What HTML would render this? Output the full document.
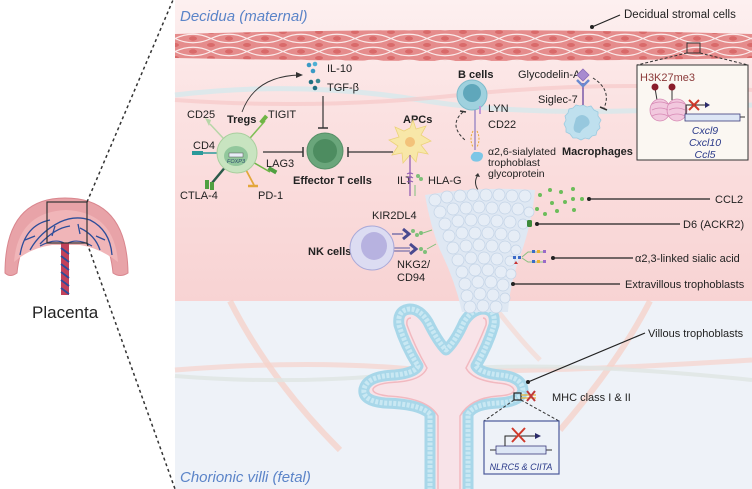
<!DOCTYPE html>
<html><head><meta charset="utf-8"><style>
html,body{margin:0;padding:0;background:#fff;}
svg{display:block;font-family:"Liberation Sans",Arial,sans-serif;}
</style></head><body>
<svg width="752" height="489" viewBox="0 0 752 489" xmlns="http://www.w3.org/2000/svg">
<defs>
<linearGradient id="dec" x1="0" y1="0" x2="0" y2="1">
<stop offset="0" stop-color="#fdf0f0"/><stop offset="0.35" stop-color="#fbe2e2"/><stop offset="1" stop-color="#f8d3d3"/>
</linearGradient>
<pattern id="str" x="175" y="32" width="36" height="13" patternUnits="userSpaceOnUse">
<rect width="36" height="13" fill="#e58c8c"/>
<path d="M0 6.5 Q18 -2 36 6.5" stroke="#fbeaea" stroke-width="1.2" fill="none"/>
<path d="M0 6.5 Q18 15 36 6.5" stroke="#fbeaea" stroke-width="1.2" fill="none"/>
<ellipse cx="18" cy="6.5" rx="4" ry="2.2" fill="#d96a6a"/>
<ellipse cx="0" cy="0" rx="4" ry="2" fill="#d96a6a"/>
<ellipse cx="36" cy="0" rx="4" ry="2" fill="#d96a6a"/>
<ellipse cx="0" cy="13" rx="4" ry="2" fill="#d96a6a"/>
<ellipse cx="36" cy="13" rx="4" ry="2" fill="#d96a6a"/>
</pattern>
</defs>

<rect x="175" y="0" width="577" height="301" fill="url(#dec)"/>
<rect x="175" y="301" width="577" height="188" fill="#eef2f8"/>

<path d="M175 95 Q300 80 420 100 T752 105" stroke="#d6e8ec" stroke-width="5" fill="none" opacity="0.8"/>
<path d="M175 100 Q320 110 460 95 T752 90" stroke="#f6c9c9" stroke-width="4" fill="none" opacity="0.7"/>
<path d="M230 301 Q270 380 340 450" stroke="#f7cfc5" stroke-width="6" fill="none" opacity="0.7"/>
<path d="M650 301 Q620 360 560 430" stroke="#f7cfc5" stroke-width="6" fill="none" opacity="0.7"/>
<path d="M175 370 Q300 360 400 368 T752 360" stroke="#f7d3cc" stroke-width="5" fill="none" opacity="0.7"/>
<path d="M175 376 Q300 386 420 372 T752 380" stroke="#dfe5e2" stroke-width="4" fill="none" opacity="0.8"/>
<path d="M490 301 Q520 340 540 360" stroke="#f7d3cc" stroke-width="5" fill="none" opacity="0.6"/>

<path d="M175 34 Q460 26 752 34 L752 58 Q460 64 175 58 Z" fill="url(#str)"/>

<text x="180" y="21" font-size="15" font-style="italic" fill="#5b84c8">Decidua (maternal)</text>
<text x="180" y="482" font-size="15" font-style="italic" fill="#5b84c8">Chorionic villi (fetal)</text>

<line x1="592" y1="27" x2="620" y2="15" stroke="#222" stroke-width="1.2"/>
<circle cx="592" cy="27" r="2" fill="#222"/>
<text x="624" y="18" font-size="11.5" fill="#222">Decidual stromal cells</text>

<rect x="687" y="43" width="13" height="10" fill="none" stroke="#333" stroke-width="1"/>
<line x1="687" y1="53" x2="637" y2="65" stroke="#333" stroke-dasharray="3 2"/>
<line x1="700" y1="53" x2="748" y2="65" stroke="#333" stroke-dasharray="3 2"/>
<rect x="637" y="65" width="111" height="95" fill="#fbf7f2" stroke="#333" stroke-width="1"/>
<text x="640" y="81" font-size="11" fill="#8b3a3a">H3K27me3</text>
<line x1="655" y1="88" x2="657" y2="100" stroke="#333"/><circle cx="655" cy="87" r="3.5" fill="#8a1c2a"/>
<line x1="672" y1="88" x2="672" y2="100" stroke="#333"/><circle cx="672" cy="87" r="3.5" fill="#8a1c2a"/>
<ellipse cx="660" cy="110" rx="10" ry="11" fill="#f2c8de" stroke="#d78ab5" stroke-width="0.8"/>
<ellipse cx="677" cy="110" rx="10" ry="11" fill="#f2c8de" stroke="#d78ab5" stroke-width="0.8"/>
<path d="M652 104 Q660 100 668 104 M652 110 Q660 106 668 110 M652 116 Q660 112 668 116 M669 104 Q677 100 685 104 M669 110 Q677 106 685 110 M669 116 Q677 112 685 116" stroke="#d78ab5" stroke-width="0.7" fill="none"/>
<line x1="685" y1="117" x2="745" y2="117" stroke="#333"/>
<rect x="685" y="114" width="55" height="7" fill="#dde6f5" stroke="#3a3a7a" stroke-width="0.8"/>
<path d="M686 114 V105 H705" stroke="#222" fill="none"/><path d="M705 102 L710 105 L705 108Z" fill="#2a2a6a"/>
<path d="M689 100 L699 110 M699 100 L689 110" stroke="#d0392b" stroke-width="2"/>
<g font-size="10.5" font-style="italic" fill="#2b3a8a" text-anchor="middle">
<text x="705" y="134">Cxcl9</text><text x="705" y="146">Cxcl10</text><text x="705" y="158">Ccl5</text></g>

<circle cx="309" cy="65" r="2.3" fill="#3a9ac5"/><circle cx="315" cy="64" r="2.3" fill="#4fb0d4"/><circle cx="313" cy="71" r="2.3" fill="#3a9ac5"/>
<circle cx="311" cy="82" r="2.3" fill="#1f6f80"/><circle cx="318" cy="81" r="2.3" fill="#3a8a95"/><circle cx="315" cy="88" r="2.3" fill="#1f6f80"/>
<text x="327" y="72" font-size="11" fill="#222">IL-10</text>
<text x="327" y="91" font-size="11" fill="#222">TGF-β</text>
<path d="M242 112 Q255 76 300 75" stroke="#333" fill="none" stroke-width="0.9"/>
<path d="M296 72 L303 75 L296 78Z" fill="#333"/>
<line x1="323" y1="96" x2="323" y2="128" stroke="#333" stroke-width="1.2"/><line x1="318" y1="128" x2="328" y2="128" stroke="#333" stroke-width="1.5"/>

<line x1="237" y1="153" x2="210" y2="124" stroke="#b7d6a8" stroke-width="1.5"/><path d="M205 118 l6 2 -2 6z" fill="#b7d6a8"/>
<line x1="237" y1="153" x2="265" y2="121" stroke="#7fbf55" stroke-width="1.5"/><rect x="262" y="115" width="4" height="9" fill="#6fb545" transform="rotate(40 264 119)"/>
<line x1="237" y1="153" x2="200" y2="153" stroke="#2a9a9a" stroke-width="1.5"/><rect x="192" y="151" width="11" height="4" fill="#2a9a9a"/>
<line x1="237" y1="153" x2="270" y2="172" stroke="#6fb545" stroke-width="1.5"/><rect x="268" y="168" width="9" height="4" fill="#4fa040" transform="rotate(30 272 170)"/>
<line x1="237" y1="153" x2="212" y2="183" stroke="#2a5a4a" stroke-width="2.5"/><rect x="205" y="180" width="4" height="9" fill="#4fa040"/><rect x="210" y="182" width="4" height="8" fill="#4fa040"/>
<line x1="237" y1="153" x2="254" y2="185" stroke="#e3a63a" stroke-width="1.8"/><path d="M248 186 h10" stroke="#e3a63a" stroke-width="2.5"/>
<circle cx="237" cy="153" r="20" fill="#c8e4c0" stroke="#a9cf9e"/>
<ellipse cx="236" cy="156" rx="12" ry="10" fill="#92c79c"/>
<rect x="229" y="153" width="14" height="4" fill="#e8eef8" stroke="#555" stroke-width="0.5"/>
<text x="236" y="163" font-size="5.5" font-style="italic" fill="#2a4a6a" text-anchor="middle">FOXP3</text>
<g font-size="11" fill="#222">
<text x="187" y="118">CD25</text><text x="268" y="118">TIGIT</text><text x="193" y="149">CD4</text>
<text x="266" y="167">LAG3</text><text x="180" y="199">CTLA-4</text><text x="258" y="199">PD-1</text>
<text x="397" y="184">ILT</text><text x="428" y="184">HLA-G</text>
<text x="488" y="112">LYN</text><text x="488" y="128">CD22</text>
<text x="488" y="155" font-size="10.5">α2,6-sialylated</text><text x="488" y="166" font-size="10.5">trophoblast</text><text x="488" y="177" font-size="10.5">glycoprotein</text>
<text x="518" y="78">Glycodelin-A</text><text x="538" y="103">Siglec-7</text>
<text x="372" y="219">KIR2DL4</text><text x="397" y="268">NKG2/</text><text x="397" y="281">CD94</text>
</g>
<g font-size="11" font-weight="bold" fill="#222">
<text x="227" y="123">Tregs</text><text x="293" y="184">Effector T cells</text><text x="403" y="123">APCs</text>
<text x="458" y="78">B cells</text><text x="562" y="155">Macrophages</text><text x="308" y="255">NK cells</text>
</g>

<line x1="263" y1="152" x2="303" y2="152" stroke="#333" stroke-width="1.2"/><line x1="303" y1="147" x2="303" y2="157" stroke="#333" stroke-width="1.5"/>
<line x1="393" y1="152" x2="348" y2="152" stroke="#333" stroke-width="1.2"/><line x1="348" y1="147" x2="348" y2="157" stroke="#333" stroke-width="1.5"/>
<circle cx="325" cy="151" r="18" fill="#6aa67b" stroke="#578f67"/>
<circle cx="325" cy="151" r="12" fill="#4d8c60"/>

<g fill="#f8e7a8" stroke="#ecd27a" stroke-width="0.8">
<path d="M410 128 L413 120 L416 129 L426 126 L421 135 L431 141 L421 145 L428 154 L418 152 L416 162 L410 155 L403 163 L402 153 L392 155 L398 146 L389 140 L399 137 L395 127 L404 131Z"/>
</g>
<circle cx="410" cy="142" r="5" fill="#f3c27a"/>
<line x1="410" y1="155" x2="410" y2="196" stroke="#8a55b0" stroke-width="1.2"/>
<path d="M407 174 q3 -2 6 0 M407 178 q3 -2 6 0 M407 182 q3 -2 6 0" stroke="#8a55b0" fill="none"/>
<circle cx="418" cy="176" r="2" fill="#7fc07a"/><circle cx="421" cy="179" r="2" fill="#7fc07a"/><line x1="415" y1="185" x2="415" y2="196" stroke="#7fc07a"/>

<circle cx="472" cy="95" r="15" fill="#9fd1de" stroke="#7fbccc"/>
<circle cx="472" cy="93" r="9" fill="#5fa7bb"/>
<line x1="475" y1="110" x2="475" y2="150" stroke="#8a78c0" stroke-width="1.2"/>
<path d="M473 131 q-4 8 0 16 M477 131 q4 8 0 16" stroke="#e6a93a" stroke-dasharray="2 1.5" fill="none"/>
<path d="M480 106 v8" stroke="#c09ad8" stroke-width="2"/>
<path d="M474 152 q-6 5 -1 9 q6 2 9 -2 q3 -6 -3 -7z" fill="#7cc6e6"/>
<path d="M463 112 Q448 125 465 140" stroke="#333" stroke-dasharray="3 2" fill="none"/><path d="M460 111 l6 1" stroke="#333" stroke-width="1.5"/>
<path d="M478 190 Q473 182 478 175" stroke="#333" fill="none"/><path d="M475 176 l3 -3 l2 4z" fill="#333"/>

<path d="M583 105 l4 2 4 -1 3 4 4 2 0 4 3 4 -2 4 1 4 -3 3 -1 4 -4 1 -3 3 -4 -1 -4 2 -4 -2 -4 0 -3 -4 -4 -2 0 -4 -2 -4 2 -4 -1 -4 3 -3 1 -4 4 -1 3 -3 4 1z" fill="#bfe0ee" stroke="#9ccbe0" stroke-width="0.8"/>
<path d="M576 118 q6 -6 12 0 q4 6 -2 9 q-4 2 -6 6 q-8 0 -6 -8z" fill="#97c8de"/>
<line x1="583" y1="83" x2="583" y2="105" stroke="#7a5aa8" stroke-width="1.5"/>
<path d="M577 80 L583 86 L589 80" stroke="#6a8ad0" stroke-width="2.5" fill="none"/>
<path d="M583 69 L589 75 L583 81 L577 75Z" fill="#a88bd0" stroke="#8a6ab8" stroke-width="0.8"/>
<path d="M593 78 Q612 90 604 108" stroke="#333" stroke-dasharray="3 2" fill="none"/><path d="M600 107 l7 3" stroke="#333" stroke-width="1.5"/>

<line x1="392" y1="234" x2="403" y2="234" stroke="#5a5aa0" stroke-width="1.2"/>
<path d="M403 229 l6 5 -6 5" stroke="#4a4a90" stroke-width="3" fill="none"/>
<circle cx="413" cy="231" r="2" fill="#7fc07a"/><circle cx="417" cy="235" r="2" fill="#7fc07a"/><circle cx="421" cy="233" r="2" fill="#7fc07a"/><line x1="423" y1="233" x2="432" y2="230" stroke="#7fc07a"/>
<line x1="393" y1="248" x2="410" y2="248" stroke="#5a5aa0"/><line x1="393" y1="251" x2="410" y2="251" stroke="#5a5aa0"/>
<path d="M410 244 l6 5 -6 5" stroke="#4a4a90" stroke-width="3" fill="none"/>
<circle cx="421" cy="249" r="2" fill="#7fc07a"/><circle cx="425" cy="252" r="2" fill="#7fc07a"/><line x1="427" y1="249" x2="436" y2="244" stroke="#7fc07a"/>
<circle cx="372" cy="248" r="22" fill="#dcdcf2" stroke="#a9a9d8"/>
<ellipse cx="374" cy="246" rx="13" ry="14" fill="#b7b2e0"/>

<!-- Villus (drawn before EVT so cluster overlaps top) -->
<path d="M430 495 L430 414 Q420 404 385 403 Q362 401 364 389 Q367 376 395 375 Q415 373 418 366 Q405 345 399 325 Q397 310 410 309 Q420 309 428 322 Q438 342 446 350 Q455 342 464 322 Q472 309 484 309 Q496 310 494 325 Q488 345 476 366 Q480 373 500 375 Q522 377 523 390 Q521 402 498 403 Q474 404 468 414 L468 495" fill="#f8e3e8" stroke="#a8d7e9" stroke-width="11" stroke-linejoin="round"/>
<path d="M430 495 L430 414 Q420 404 385 403 Q362 401 364 389 Q367 376 395 375 Q415 373 418 366 Q405 345 399 325 Q397 310 410 309 Q420 309 428 322 Q438 342 446 350 Q455 342 464 322 Q472 309 484 309 Q496 310 494 325 Q488 345 476 366 Q480 373 500 375 Q522 377 523 390 Q521 402 498 403 Q474 404 468 414 L468 495" fill="none" stroke="#c9e8f3" stroke-width="5" stroke-dasharray="3 1.5" stroke-linejoin="round"/>
<path d="M438 489 L438 416 Q428 398 388 396 Q372 394 373 389 Q376 383 398 382 Q422 380 427 368 Q414 345 407 325 Q406 318 411 318 M460 489 L460 416 Q470 398 498 396 Q514 395 514 390 Q512 384 498 383 Q472 380 466 368 Q478 345 486 325 Q487 318 483 318" stroke="#f2b9c0" stroke-width="1.5" fill="none"/>

<!-- EVT cluster -->
<path d="M425 195 Q480 186 535 190 Q532 225 518 262 Q510 285 508 312 L462 312 Q455 280 440 250 Q430 225 425 195Z" fill="#dfe8f3"/>
<g fill="#e6edf6" stroke="#c3d3e6" stroke-width="0.7">
<circle cx="435" cy="200" r="6"/><circle cx="447" cy="197" r="6"/><circle cx="460" cy="196" r="6"/><circle cx="473" cy="195" r="6"/><circle cx="486" cy="195" r="6"/><circle cx="499" cy="195" r="6"/><circle cx="512" cy="196" r="6"/><circle cx="525" cy="196" r="6"/>
<circle cx="440" cy="212" r="6"/><circle cx="453" cy="209" r="6"/><circle cx="466" cy="208" r="6"/><circle cx="479" cy="207" r="6"/><circle cx="492" cy="208" r="6"/><circle cx="505" cy="208" r="6"/><circle cx="518" cy="209" r="6"/><circle cx="529" cy="212" r="5"/>
<circle cx="445" cy="224" r="6"/><circle cx="458" cy="221" r="6"/><circle cx="471" cy="220" r="6"/><circle cx="484" cy="220" r="6"/><circle cx="497" cy="221" r="6"/><circle cx="510" cy="222" r="6"/><circle cx="523" cy="224" r="5"/>
<circle cx="449" cy="236" r="6"/><circle cx="462" cy="233" r="6"/><circle cx="475" cy="233" r="6"/><circle cx="488" cy="233" r="6"/><circle cx="501" cy="234" r="6"/><circle cx="514" cy="236" r="6"/>
<circle cx="453" cy="248" r="6"/><circle cx="466" cy="246" r="6"/><circle cx="479" cy="245" r="6"/><circle cx="492" cy="246" r="6"/><circle cx="505" cy="247" r="6"/><circle cx="516" cy="250" r="5"/>
<circle cx="458" cy="260" r="6"/><circle cx="471" cy="258" r="6"/><circle cx="484" cy="258" r="6"/><circle cx="497" cy="259" r="6"/><circle cx="510" cy="261" r="5"/>
<circle cx="462" cy="272" r="6"/><circle cx="475" cy="270" r="6"/><circle cx="488" cy="270" r="6"/><circle cx="501" cy="272" r="6"/><circle cx="511" cy="274" r="5"/>
<circle cx="465" cy="284" r="6"/><circle cx="478" cy="282" r="6"/><circle cx="491" cy="282" r="6"/><circle cx="503" cy="285" r="6"/>
<circle cx="467" cy="296" r="6"/><circle cx="480" cy="294" r="6"/><circle cx="493" cy="295" r="6"/><circle cx="505" cy="298" r="5"/>
<circle cx="470" cy="307" r="6"/><circle cx="483" cy="306" r="6"/><circle cx="496" cy="307" r="6"/>
</g>

<g fill="#6cbd5a">
<circle cx="540" cy="195" r="2"/><circle cx="550" cy="190" r="2"/><circle cx="561" cy="192" r="2"/><circle cx="573" cy="189" r="2"/><circle cx="582" cy="199" r="2"/>
<circle cx="537" cy="209" r="2"/><circle cx="545" cy="214" r="2"/><circle cx="552" cy="203" r="2"/><circle cx="557" cy="211" r="2"/><circle cx="565" cy="202" r="2"/><circle cx="574" cy="210" r="2"/><circle cx="573" cy="199" r="2"/>
</g>
<line x1="589" y1="199" x2="710" y2="199" stroke="#222" stroke-width="1.2"/><circle cx="589" cy="199" r="2" fill="#222"/>
<text x="715" y="203" font-size="11" fill="#222">CCL2</text>
<rect x="527" y="220" width="5" height="7" rx="1.5" fill="#3e8a3a"/>
<line x1="537" y1="224" x2="680" y2="224" stroke="#222" stroke-width="1.2"/><circle cx="537" cy="224" r="2" fill="#222"/>
<text x="683" y="228" font-size="11" fill="#222">D6 (ACKR2)</text>
<g>
<rect x="513" y="256" width="3" height="3" fill="#3a6ac8"/><rect x="518" y="256" width="3" height="3" fill="#3a6ac8"/>
<path d="M514 264 l2 -3 2 3z" fill="#c83030"/>
<path d="M522 257 L528 252 L546 252 M522 258 L528 262 L546 262" stroke="#8ac080" fill="none"/>
<rect x="532" y="250" width="3" height="3" fill="#3a6ac8"/><rect x="537" y="250" width="3" height="3" fill="#e8b030"/><rect x="543" y="250" width="3" height="3" fill="#9a6ac8"/>
<rect x="532" y="260" width="3" height="3" fill="#3a6ac8"/><rect x="537" y="260" width="3" height="3" fill="#e8b030"/><rect x="543" y="260" width="3" height="3" fill="#9a6ac8"/>
</g>
<line x1="553" y1="258" x2="633" y2="258" stroke="#222" stroke-width="1.2"/><circle cx="553" cy="258" r="2" fill="#222"/>
<text x="635" y="262" font-size="11" fill="#222">α2,3-linked sialic acid</text>
<line x1="513" y1="284" x2="620" y2="284" stroke="#222" stroke-width="1.2"/><circle cx="513" cy="284" r="2" fill="#222"/>
<text x="625" y="288" font-size="11" fill="#222">Extravillous trophoblasts</text>

<line x1="528" y1="382" x2="645" y2="333" stroke="#222" stroke-width="1.2"/><circle cx="528" cy="382" r="2" fill="#222"/>
<text x="648" y="337" font-size="11" fill="#222">Villous trophoblasts</text>
<rect x="514" y="393" width="7" height="7" fill="none" stroke="#222" stroke-width="1.2"/>
<line x1="521" y1="395" x2="536" y2="395" stroke="#e8b030" stroke-width="1.2"/><line x1="521" y1="398" x2="536" y2="398" stroke="#e8b030" stroke-width="1.2"/>
<path d="M527 391 L535 401 M535 391 L527 401" stroke="#c0393b" stroke-width="2"/>
<text x="552" y="401" font-size="11" fill="#222">MHC class I &amp; II</text>
<line x1="514" y1="400" x2="484" y2="421" stroke="#333" stroke-dasharray="3 2"/>
<line x1="521" y1="400" x2="559" y2="421" stroke="#333" stroke-dasharray="3 2"/>
<rect x="484" y="421" width="75" height="53" fill="#eef2f8" stroke="#4a5a9a" stroke-width="1.2"/>
<line x1="490" y1="450" x2="552" y2="450" stroke="#333"/>
<rect x="496" y="446" width="50" height="8" fill="#dde6f5" stroke="#3a3a7a" stroke-width="0.8"/>
<path d="M505 446 V436 H535" stroke="#222" fill="none"/><path d="M535 433 L541 436 L535 439Z" fill="#2a2a6a"/>
<path d="M512 428 L525 442 M525 428 L512 442" stroke="#d0392b" stroke-width="2"/>
<text x="521" y="470" font-size="9" font-style="italic" fill="#2b3a8a" text-anchor="middle">NLRC5 &amp; CIITA</text>

<path d="M5 273 Q5 198 65 198 Q127 198 128 273 Q120 278 113 273 Q108 220 66 218 Q22 220 17 273 Q10 278 5 273Z" fill="#e8a3a8" stroke="#d9868e" stroke-width="1"/>
<path d="M14 262 Q18 212 66 210 Q114 212 118 262 Q100 248 80 245 L52 245 Q30 248 14 262Z" fill="#f0b5b8"/>
<path d="M20 255 Q25 225 50 220 M30 250 Q40 232 60 222 Q75 215 90 220 Q110 230 112 255 M40 244 Q55 228 70 226 M80 228 Q95 235 100 250 M25 240 L35 236 M105 240 L96 236 M55 226 L52 236 M78 224 L80 234" stroke="#2d4d9a" stroke-width="1.3" fill="none"/>
<path d="M40 246 Q55 238 64 243 M92 246 Q78 238 68 243" stroke="#2d4d9a" stroke-width="1.2" fill="none"/>
<rect x="61" y="243" width="8" height="52" fill="#c2425a"/>
<path d="M61 248 L69 254 M61 256 L69 262 M61 264 L69 270 M61 272 L69 278 M61 280 L69 286 M61 288 L69 294" stroke="#2d4d9a" stroke-width="1.8"/>
<rect x="47" y="202" width="40" height="41" fill="none" stroke="#333" stroke-width="1.2"/>
<line x1="87" y1="202" x2="173" y2="0" stroke="#333" stroke-width="1.5" stroke-dasharray="3 3"/>
<line x1="87" y1="243" x2="175" y2="489" stroke="#333" stroke-width="1.5" stroke-dasharray="3 3"/>
<text x="32" y="318" font-size="17" fill="#222">Placenta</text>
</svg>
</body></html>
